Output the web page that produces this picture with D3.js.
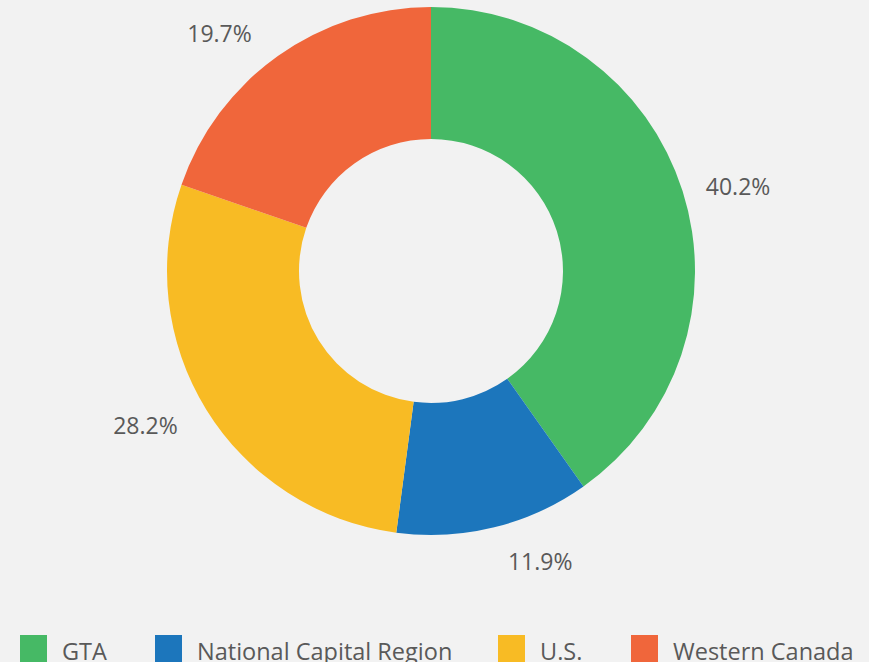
<!DOCTYPE html>
<html>
<head>
<meta charset="utf-8">
<script src="https://cdn.jsdelivr.net/npm/d3@7"></script>
<style>
  html, body { margin: 0; padding: 0; background: #f2f2f2; }
  svg { display: block; }
  text { font-family: "Open Sans", sans-serif; fill: #595959; }
</style>
</head>
<body>
<script>
var categories = ["GTA", "National Capital Region", "U.S.", "Western Canada"];
var values = [40.2, 11.9, 28.2, 19.7];
var colors = ["#46b965", "#1c76bc", "#f8bb24", "#f0663b"];

var w = 869,
    h = 662,
    cx = 431,
    cy = 271,
    outerR = 264,
    innerR = 132,
    labelR = 318;

// small nudges so the labels sit where the original puts them
var labelNudge = [[4, 12], [33, -18], [-15, -12], [-27, 22]];

var svg = d3.select("body")
    .append("svg")
    .attr("width", w)
    .attr("height", h);

svg.append("rect")
    .attr("width", "100%")
    .attr("height", "100%")
    .attr("fill", "#f2f2f2");

var pie = d3.pie().sort(null).value(function(d) { return d; });
var arcs = pie(values);

var arc = d3.arc().innerRadius(innerR).outerRadius(outerR);
var labelArc = d3.arc().innerRadius(labelR).outerRadius(labelR);

var g = svg.append("g")
    .attr("transform", "translate(" + cx + "," + cy + ")");

g.selectAll(".slice")
    .data(arcs)
    .enter()
    .append("path")
    .attr("class", "slice")
    .attr("d", arc)
    .attr("fill", function(d, i) { return colors[i]; });

g.selectAll(".lbl")
    .data(arcs)
    .enter()
    .append("text")
    .attr("class", "lbl")
    .attr("transform", function(d, i) {
        var c = labelArc.centroid(d);
        return "translate(" + (c[0] + labelNudge[i][0]) + "," + (c[1] + labelNudge[i][1]) + ")";
    })
    .attr("text-anchor", "middle")
    .attr("dy", "0.35em")
    .style("font-size", "23px")
    .text(function(d) { return d.value.toFixed(1) + "%"; });

// legend
var legendX = [20, 155, 498, 631];
var legend = svg.append("g").attr("class", "legend");
var items = legend.selectAll(".item")
    .data(categories)
    .enter()
    .append("g")
    .attr("class", "item")
    .attr("transform", function(d, i) { return "translate(" + legendX[i] + ",635)"; });
items.append("rect")
    .attr("width", 27)
    .attr("height", 27)
    .attr("fill", function(d, i) { return colors[i]; });
items.append("text")
    .attr("x", 42)
    .attr("y", 25)
    .style("font-size", "23.5px")
    .text(function(d) { return d; });
</script>
</body>
</html>
